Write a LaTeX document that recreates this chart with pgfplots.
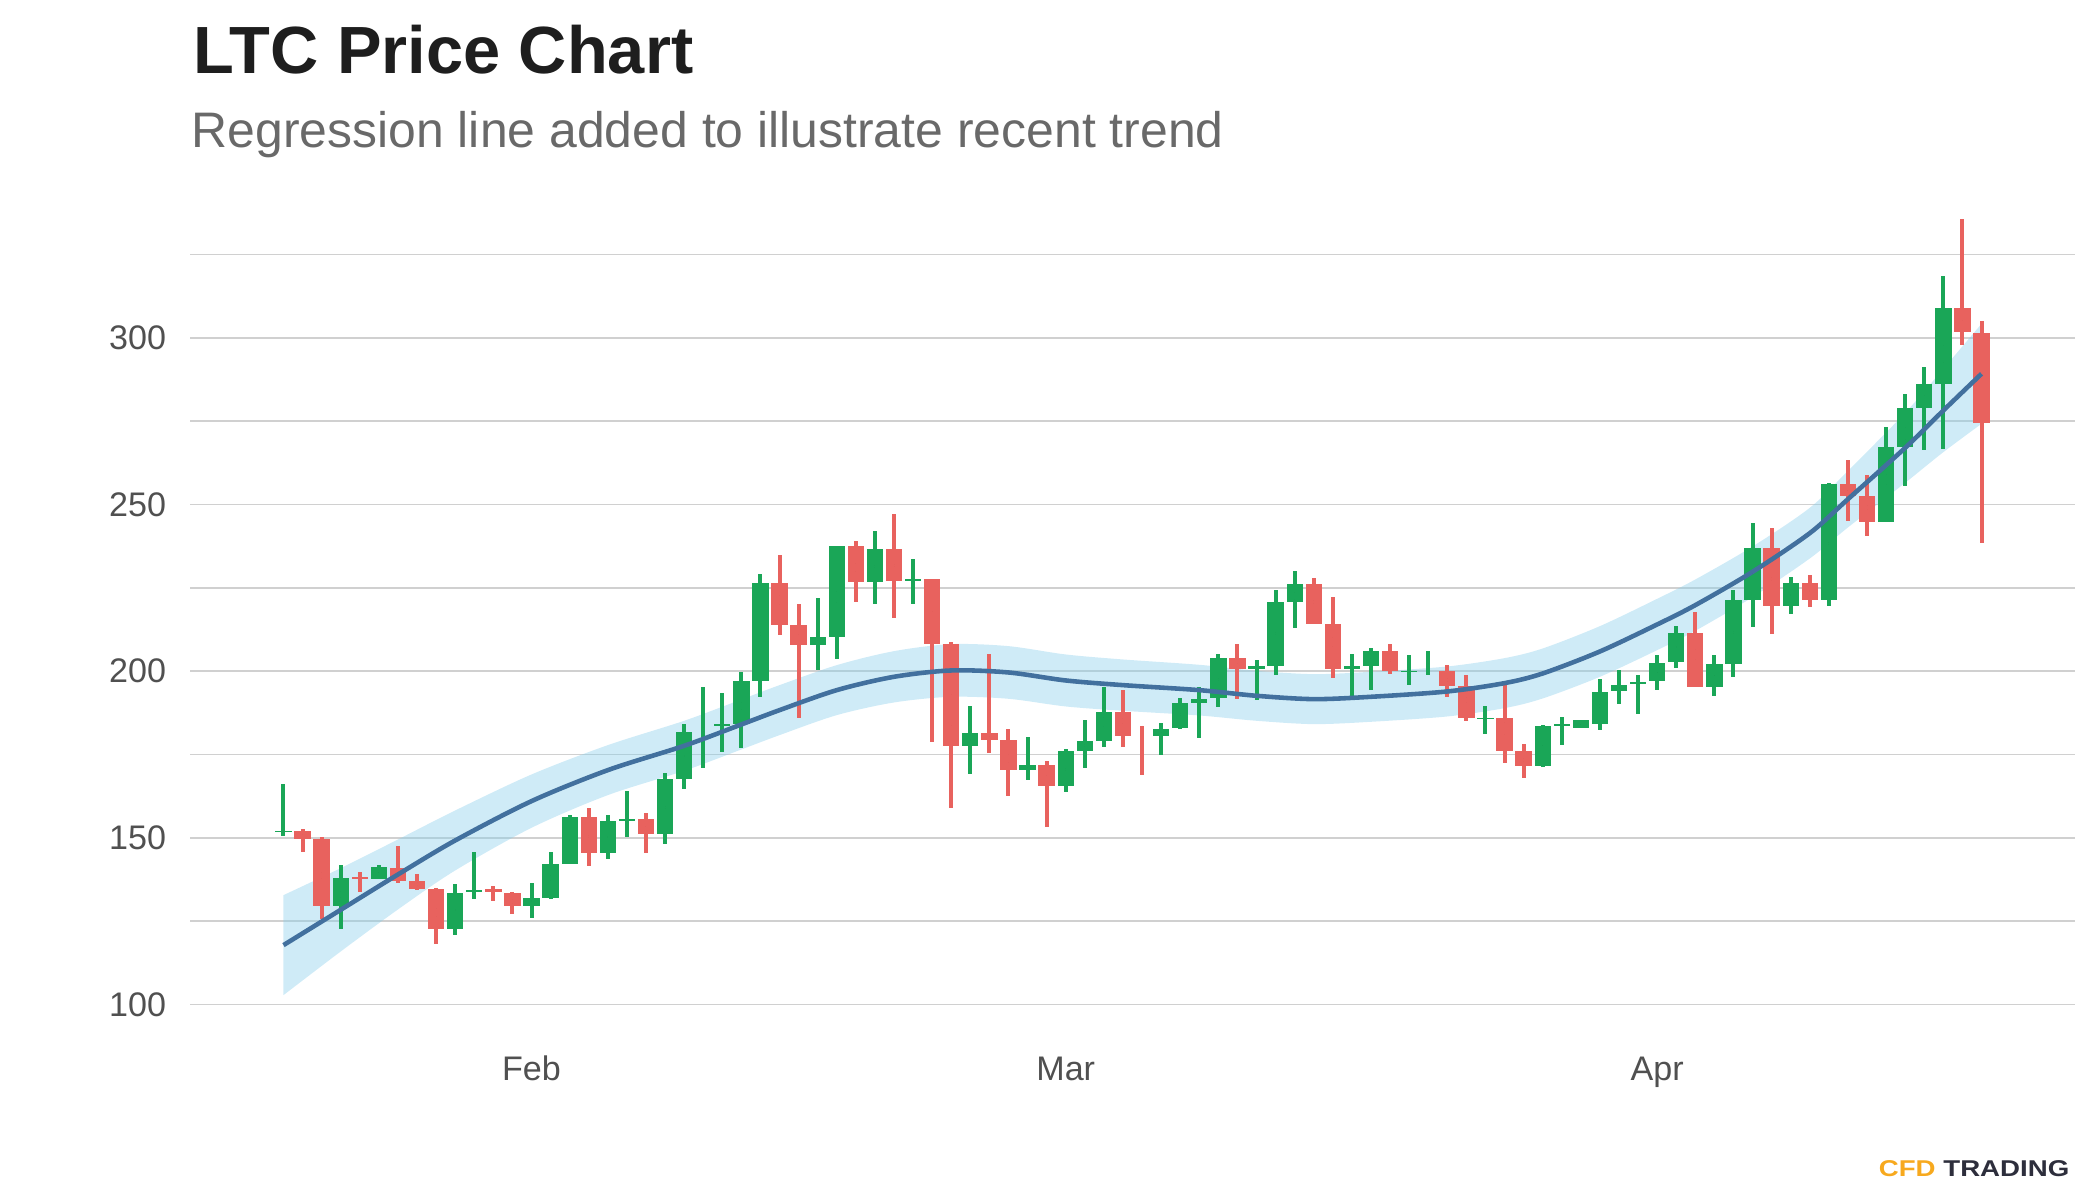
\documentclass[border=0pt]{standalone}
\usepackage{pgfplots}
\pgfplotsset{compat=1.18}
\usepackage{pgfplotstable}
\usepgfplotslibrary{fillbetween}
\usepackage{fontspec}
\setmainfont{Liberation Sans}
\usepackage{graphicx}

\definecolor{cgreen}{RGB}{26,166,87}
\definecolor{cred}{RGB}{232,98,94}
\definecolor{cband}{RGB}{135,206,235}
\definecolor{cline}{RGB}{66,112,158}
\definecolor{cgrid}{RGB}{208,208,208}
\definecolor{ctick}{RGB}{80,80,80}
\definecolor{ctitle}{RGB}{30,30,30}
\definecolor{csub}{RGB}{105,105,105}
\definecolor{corange}{RGB}{247,169,30}
\definecolor{cnavy}{RGB}{45,46,60}

% day 0 = 19 Jan; columns: day open high low close
\pgfplotstableread{
d o h l c
0 151.9 166.1 150.4 152.1
3 129.6 141.7 122.6 138.0
5 137.7 141.7 137.7 141.2
9 122.7 136.0 120.9 133.4
10 133.8 145.7 131.7 134.3
13 129.6 136.4 126.0 132.0
14 132.0 145.8 131.7 142.2
15 142.2 156.7 142.0 156.3
17 145.3 156.8 143.7 155.1
18 155.2 164.0 150.1 155.6
20 151.0 169.3 148.0 167.6
21 167.6 184.2 164.5 181.7
22 182.0 195.1 170.8 182.0
23 183.4 193.5 175.8 184.0
24 184.0 199.8 177.0 197.0
25 197.0 229.1 192.1 226.3
28 207.9 221.8 200.3 210.3
29 210.3 237.5 203.5 237.5
31 226.8 241.9 220.2 236.6
33 227.2 233.7 220.2 227.6
36 177.6 189.5 169.0 181.4
39 170.4 180.3 167.3 171.8
41 165.6 176.5 163.6 176.0
42 176.0 185.3 170.8 179.0
43 179.0 195.3 177.1 187.8
46 180.6 184.5 174.8 182.6
47 182.8 192.0 182.5 190.3
48 190.5 195.3 180.0 191.6
49 192.0 205.1 189.2 203.8
51 200.5 203.3 191.2 201.5
52 201.5 224.2 198.7 220.7
53 220.7 229.9 212.8 226.2
56 200.7 205.1 192.6 201.5
57 201.5 206.8 194.3 206.0
59 199.8 204.8 195.9 200.1
60 199.8 206.0 198.8 199.8
63 185.7 189.4 181.0 186.0
66 171.6 183.8 171.3 183.5
67 183.6 186.1 177.8 184.0
68 182.9 185.4 182.8 185.3
69 184.2 197.6 182.4 193.8
70 193.9 200.2 190.2 195.9
71 196.2 198.9 187.2 196.6
72 196.9 204.9 194.4 202.4
73 202.6 213.6 200.9 211.5
75 195.3 204.7 192.4 202.1
76 202.1 224.4 198.3 221.4
77 221.4 244.4 213.3 237.0
79 219.4 228.1 217.2 226.4
81 221.2 256.4 219.4 256.2
84 244.6 273.3 244.6 267.3
85 267.3 283.1 255.6 279.0
86 279.0 291.3 266.3 286.2
87 286.2 318.4 266.5 309.0
}\up

\pgfplotstableread{
d o h l c
1 152.0 152.5 145.8 149.7
2 149.6 150.1 125.6 129.6
4 138.1 139.8 133.6 137.7
6 141.0 147.5 136.5 137.1
7 137.0 139.1 134.3 134.6
8 134.6 134.8 118.2 122.7
11 134.6 135.6 131.0 133.6
12 133.4 133.6 127.2 129.6
16 156.3 158.8 141.4 145.3
19 155.6 157.4 145.4 151.0
26 226.3 234.8 210.7 213.8
27 213.8 220.0 186.0 207.9
30 237.5 239.0 220.8 226.8
32 236.6 247.0 216.0 227.1
34 227.6 227.6 178.8 208.1
35 208.1 208.6 159.0 177.6
37 181.4 205.1 175.3 179.4
38 179.4 182.6 162.6 170.4
40 171.8 173.0 153.1 165.6
44 187.8 194.3 177.1 180.5
45 183.6 183.6 168.7 183.6
50 203.8 208.0 191.5 200.5
54 226.2 228.0 214.1 214.1
55 214.1 222.3 197.8 200.6
58 206.0 208.1 199.1 200.0
61 200.0 201.7 192.3 195.6
62 195.5 198.9 185.0 185.8
64 185.8 196.9 172.5 176.1
65 176.0 178.1 167.9 171.6
74 211.5 217.6 195.1 195.3
78 237.0 242.9 211.2 219.4
80 226.4 228.9 219.2 221.2
82 256.2 263.2 244.9 252.4
83 252.4 258.8 240.4 244.6
88 309.0 335.6 297.7 301.6
89 301.5 305.1 238.4 274.3
}\down

% regression line and half-width of its band
\pgfplotstableread{
d m hw
0 117.8 15
3 128.4 12.5
6 139.0 10.5
9 149.2 9
13 161.0 8
17 170.3 7.5
21 177.6 7.5
24 184.0 7.5
26 188.3 7.5
29 194.3 7.5
32 198.3 7.7
35 200.2 7.9
38 199.6 7.9
41 197.2 7.8
44 195.8 7.7
48 194.3 7.6
51 192.6 7.5
54 191.6 7.5
57 192.3 7.5
61 193.9 7.5
64 196.4 7.5
66 199.3 7.5
69 205.9 7.6
72 214.0 7.7
74 219.8 7.7
77 229.8 7.6
80 241.4 7.6
82 251.6 8.5
85 267.0 10.5
87 278.2 12.5
89 289.2 15
}\trend

\begin{document}
\begin{tikzpicture}
\node[anchor=base west, inner sep=0pt, text=ctitle,
      font=\fontsize{19}{23}\selectfont\bfseries] at (19.3mm,112.67mm) {LTC Price Chart};
\node[anchor=base west, inner sep=0pt, text=csub,
      font=\fontsize{14.2}{17}\selectfont] at (19.1mm,105.23mm) {Regression line added to illustrate recent trend};
\node[anchor=base east, inner sep=0pt, font=\fontsize{6.5}{8}\selectfont\bfseries]
      at (207mm,2.33mm) {\scalebox{1.21}[1]{\textcolor{corange}{CFD} \textcolor{cnavy}{TRADING}}};
\begin{axis}[
  at={(19mm,16.22mm)}, anchor=south west,
  scale only axis, width=188.5mm, height=85mm,
  xmin=-4.9, xmax=93.9, ymin=90, ymax=345,
  axis line style={draw=none},
  major tick style={draw=none}, minor tick style={draw=none},
  ytick={100,150,...,300},
  minor ytick={125,175,...,325},
  ymajorgrids, yminorgrids,
  major grid style={cgrid, line width=0.5pt},
  minor grid style={cgrid, line width=0.5pt},
  xtick={13,41,72}, xticklabels={Feb,Mar,Apr},
  tick label style={font=\fontsize{9.7}{12}\selectfont, text=ctick},
  /pgf/number format/assume math mode=true,
  yticklabel style={anchor=east, inner sep=0pt, xshift=-2.33mm},
  xticklabel style={anchor=base, inner sep=0pt, yshift=-4.32mm},
  clip=false,
  candle/.style={only marks, mark=*, mark size=0pt,
    mark options={draw=none, fill=none}},
]
% wicks
\addplot[candle, error bars/.cd, y dir=both, y explicit, error mark=none,
  error bar style={line width=0.4mm, cgreen}]
  table[x=d, y expr={(\thisrow{h}+\thisrow{l})/2}, y error expr={(\thisrow{h}-\thisrow{l})/2}] {\up};
\addplot[candle, error bars/.cd, y dir=both, y explicit, error mark=none,
  error bar style={line width=0.4mm, cred}]
  table[x=d, y expr={(\thisrow{h}+\thisrow{l})/2}, y error expr={(\thisrow{h}-\thisrow{l})/2}] {\down};
% bodies
\addplot[candle, error bars/.cd, y dir=both, y explicit, error mark=none,
  error bar style={line width=1.63mm, cgreen}]
  table[x=d, y expr={(\thisrow{o}+\thisrow{c})/2}, y error expr={abs(\thisrow{c}-\thisrow{o})/2}] {\up};
\addplot[candle, error bars/.cd, y dir=both, y explicit, error mark=none,
  error bar style={line width=1.63mm, cred}]
  table[x=d, y expr={(\thisrow{o}+\thisrow{c})/2}, y error expr={abs(\thisrow{c}-\thisrow{o})/2}] {\down};
% confidence band
\addplot[name path=upper, draw=none, smooth] table[x=d, y expr={\thisrow{m}+\thisrow{hw}}] {\trend};
\addplot[name path=lower, draw=none, smooth] table[x=d, y expr={\thisrow{m}-\thisrow{hw}}] {\trend};
\addplot[fill=cband, fill opacity=0.4, draw=none] fill between[of=upper and lower];
% regression line
\addplot[cline, line width=1.3pt, smooth] table[x=d, y=m] {\trend};
\end{axis}
\pgfresetboundingbox
\useasboundingbox (0,0) rectangle (210mm,120mm);
\end{tikzpicture}
\end{document}
